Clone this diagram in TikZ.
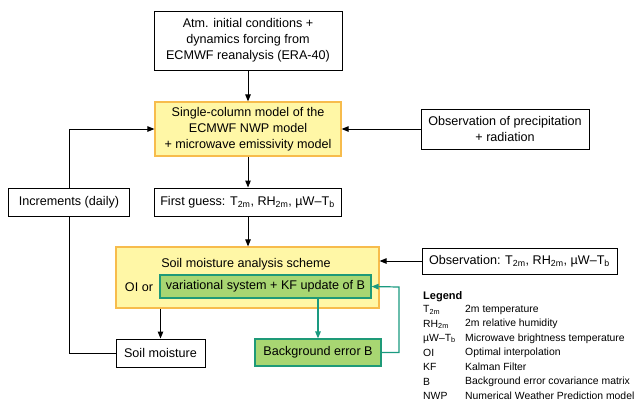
\documentclass[tikz,border=0pt]{standalone}
\usepackage{fontspec}
\setmainfont{Liberation Sans}
\usetikzlibrary{arrows.meta}
\definecolor{yfill}{HTML}{FFF7A6}
\definecolor{ydraw}{HTML}{F7BC4C}
\definecolor{gfill}{HTML}{A8D672}
\definecolor{gdraw}{HTML}{1E9A78}
\definecolor{tline}{HTML}{1A9A80}
\tikzset{
  base/.style={inner sep=0pt, align=center, font=\fontsize{12.6bp}{16bp}\selectfont},
  wbox/.style={base, draw=black, line width=1bp, fill=white},
  ybox/.style={base, draw=ydraw, line width=1.2bp, fill=yfill},
  gbox/.style={base, draw=gdraw, line width=1.2bp, fill=gfill},
  plain/.style={base},
  arr/.style={-{Triangle[length=7bp,width=5.5bp]}, line width=1bp},
  tarr/.style={-{Triangle[length=7bp,width=5.5bp]}, line width=1.2bp, draw=tline},
  lg/.style={inner sep=0pt, anchor=west, font=\fontsize{10.4bp}{12bp}\selectfont},
}
\begin{document}
\begin{tikzpicture}[x=1bp,y=-1bp]
\useasboundingbox (0,0) rectangle (636,403);
\node[wbox, minimum width=188bp, minimum height=59bp] (top) at (248,40.5)
  {Atm. initial conditions +\\dynamics forcing from\\ECMWF reanalysis (ERA-40)};
\node[ybox, minimum width=186bp, minimum height=54bp] (scm) at (248,129)
  {Single-column model of the\\ECMWF NWP model\\+ microwave emissivity model};
\node[wbox, minimum width=168bp, minimum height=40bp] (op) at (505,129)
  {Observation of precipitation\\+ radiation};
\node[wbox, minimum width=120bp, minimum height=28bp] (inc) at (69,202)
  {Increments (daily)};
\node[wbox, minimum width=187bp, minimum height=28bp] (fg) at (247.5,202)
  {First guess: T\textsubscript{2m}, RH\textsubscript{2m}, µW–T\textsubscript{b}};
\node[ybox, minimum width=263bp, minimum height=61bp] (sch) at (247.5,277.5) {};
\node[plain] (scht) at (246,264) {Soil moisture analysis scheme};
\node[plain] (oi) at (139,287) {OI or};
\node[gbox, minimum width=211bp, minimum height=23bp] (gr) at (265.5,286.5)
  {variational system + KF update of B};
\node[wbox, minimum width=195bp, minimum height=26bp] (obs) at (519.5,261)
  {Observation: T\textsubscript{2m}, RH\textsubscript{2m}, µW–T\textsubscript{b}};
\node[wbox, minimum width=89bp, minimum height=28bp] (sm) at (160.5,353)
  {Soil moisture};
\node[gbox, minimum width=126bp, minimum height=27bp] (bg) at (318,352.5)
  {Background error B};
\coordinate (tc) at (399,287);
% connectors
\draw[arr] (top.south) -- (scm.north);
\draw[arr] (scm.south) -- (scm.south |- fg.north);
\draw[arr] (scm.south |- fg.south) -- (scm.south |- sch.north);
\draw[arr] (op.west) -- (scm.east);
\draw[arr] (inc.north) |- (scm.west);
\draw[line width=1bp] (inc.south) |- (sm.west);
\draw[arr] (sm.north |- sch.south) -- (sm.north);
\draw[arr] (obs.west) -- (obs.west -| sch.east);
\draw[tarr] (bg.north |- gr.south) -- (bg.north);
\draw[tarr] (bg.east) -| (tc) -- (gr.east);
% legend
\node[lg, font=\fontsize{11bp}{12bp}\bfseries] (lgh) at (423,297) {Legend};
\node[lg] (l1a) at (423,310) {T\textsubscript{2m}};
\node[lg] (l1b) at (465,310) {2m temperature};
\node[lg] (l2a) at (423,324.3) {RH\textsubscript{2m}};
\node[lg] (l2b) at (465,324.3) {2m relative humidity};
\node[lg] (l3a) at (423,338.6) {µW–T\textsubscript{b}};
\node[lg] (l3b) at (465,338.6) {Microwave brightness temperature};
\node[lg] (l4a) at (423,352.9) {OI};
\node[lg] (l4b) at (465,352.9) {Optimal interpolation};
\node[lg] (l5a) at (423,367.2) {KF};
\node[lg] (l5b) at (465,367.2) {Kalman Filter};
\node[lg] (l6a) at (423,381.5) {B};
\node[lg] (l6b) at (465,381.5) {Background error covariance matrix};
\node[lg] (l7a) at (423,395.8) {NWP};
\node[lg] (l7b) at (465,395.8) {Numerical Weather Prediction model};
\end{tikzpicture}
\end{document}
